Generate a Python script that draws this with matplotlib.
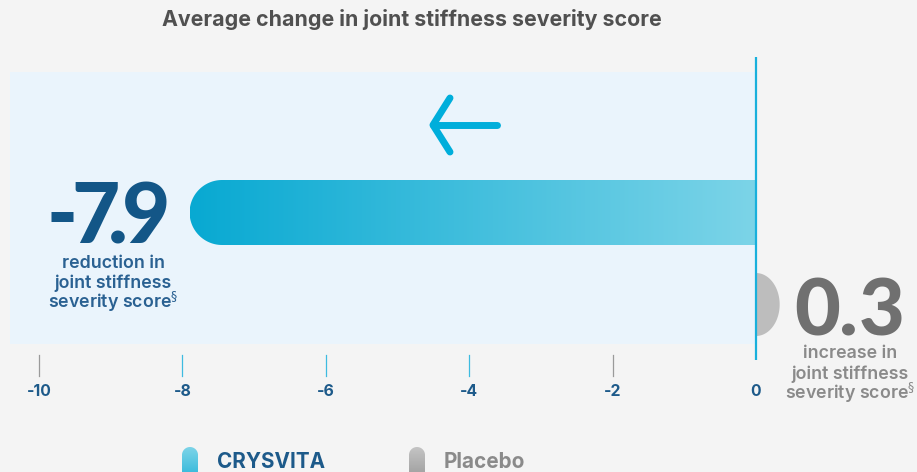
import numpy as np
import matplotlib
matplotlib.use("Agg")
import matplotlib.pyplot as plt
from matplotlib.path import Path
from matplotlib.patches import PathPatch, Rectangle
from matplotlib.colors import LinearSegmentedColormap

# ---- data ----
groups = ["CRYSVITA", "Placebo"]
values = [-7.9, 0.3]
value_labels = ["-7.9", "0.3"]
ticks = [-10, -8, -6, -4, -2, 0]
tick_labels = ["-10", "-8", "-6", "-4", "-2", "0"]
title = "Average change in joint stiffness severity score"
desc_neg = ["reduction in", "joint stiffness", r"severity score$^{\S}$"]
desc_pos = ["increase in", "joint stiffness", r"severity score$^{\S}$"]

W, H = 917, 472
PX = 71.7          # pixels per unit
X0 = 756           # pixel of value 0
fig = plt.figure(figsize=(W / 100, H / 100), dpi=100)
fig.patch.set_facecolor("#F4F4F4")
ax = fig.add_axes([0, 0, 1, 1])
ax.set_xlim(-X0 / PX, (W - X0) / PX)
ax.set_ylim(H, 0)
ax.axis("off")
renderer = fig.canvas.get_renderer()

def px2v(p):
    return (p - X0) / PX

FONT = "Inter"
DARK = "#135687"
GREY = "#707070"

def fit_size(strings, target_w, **kw):
    widths = []
    for s in strings:
        t = ax.text(0, 0, s, fontsize=10, **kw)
        widths.append(t.get_window_extent(renderer).width)
        t.remove()
    return 10 * target_w / max(widths)

# light panel
ax.add_patch(Rectangle((px2v(10), 72), 0 - px2v(10), 272, facecolor="#EAF4FC",
                       edgecolor="none", zorder=0))

def mkpath(verts):
    verts = list(verts) + [verts[0]]
    codes = [Path.MOVETO] + [Path.LINETO] * (len(verts) - 2) + [Path.CLOSEPOLY]
    return Path(verts, codes)

# CRYSVITA bar with gradient, rounded left end
v = values[0]
bar_top, bar_bot = 180, 245
r = (bar_bot - bar_top) / 2
yc = (bar_top + bar_bot) / 2
rx = r / PX
cx = v + rx
th = np.linspace(np.pi / 2, 3 * np.pi / 2, 80)
verts = [(0, bar_top)] + [(cx + rx * np.cos(t), yc - r * np.sin(t)) for t in th] + [(0, bar_bot)]
patch = PathPatch(mkpath(verts), facecolor="none", edgecolor="none")
ax.add_patch(patch)
cmap = LinearSegmentedColormap.from_list("g", ["#08A9D2", "#7CD4E8"])
grad = np.linspace(0, 1, 256).reshape(1, -1)
im = ax.imshow(grad, cmap=cmap, extent=[v, 0, bar_bot, bar_top], aspect="auto",
               zorder=2, interpolation="bilinear")
im.set_clip_path(patch)

# Placebo half-ellipse bar
pv = values[1]
p_top, p_bot = 273, 336
pr = (p_bot - p_top) / 2
pyc = (p_top + p_bot) / 2
th = np.linspace(-np.pi / 2, np.pi / 2, 60)
pverts = [(0 + (pv + 0.03) * np.cos(t), pyc + pr * np.sin(t)) for t in th]
ax.add_patch(PathPatch(mkpath(pverts), facecolor="#BDBDBD", edgecolor="none", zorder=2))

# zero line
ax.plot([0, 0], [57, 360], color="#18B0DC", lw=1.6, zorder=3, solid_capstyle="butt")

# ticks
tfs = fit_size(["-10"], 25, fontweight="bold", family=FONT)
for t, lab in zip(ticks, tick_labels):
    if t != 0:
        col = "#9A9A9A" if t in (-10, -2) else "#3DBBE0"
        ax.plot([t, t], [355, 376], color=col, lw=0.9, zorder=3)
    ax.text(t, 391, lab, ha="center", va="center", fontsize=tfs, fontweight="bold",
            color="#1D5A8A", family=FONT)

# title
fs = fit_size([title], 499, fontweight="bold", family=FONT)
ax.text(px2v(412), 20, title, ha="center", va="center", fontsize=fs,
        fontweight="bold", color="#505050", family=FONT)

# arrow
ax.plot([px2v(433), px2v(497)], [125, 125], color="#00AEDB", lw=5, solid_capstyle="round", zorder=3)
ax.plot([px2v(450), px2v(433), px2v(450)], [98, 125, 152], color="#00AEDB", lw=5,
        solid_capstyle="round", solid_joinstyle="round", zorder=3)

# big value label -7.9 (glyphs placed individually for tight kerning)
big_neg = list(value_labels[0])
neg_x = [62, 96, 118, 146]
for ch, xp in zip(big_neg, neg_x):
    ax.text(px2v(xp), 243, ch, ha="center", va="baseline", fontsize=60,
            fontweight="black", color=DARK, family="Lato")

dfs = fit_size(desc_neg, 131, fontweight="semibold", family=FONT)
for s, yy in zip(desc_neg, [263, 283, 302]):
    ax.text(px2v(113), yy, s, ha="center", va="center", fontsize=dfs,
            fontweight="semibold", color="#2A6192", family=FONT)

# big value label 0.3
big_pos = list(value_labels[1])
pos_x = [817, 848, 882]
for ch, xp in zip(big_pos, pos_x):
    ax.text(px2v(xp), 336, ch, ha="center", va="baseline", fontsize=57,
            fontweight="black", color=GREY, family="Lato")
for s, yy in zip(desc_pos, [354, 374, 393]):
    ax.text(px2v(850), yy, s, ha="center", va="center", fontsize=dfs,
            fontweight="semibold", color="#8A8A8A", family=FONT)

# legend chips (vertical capsules)
def legend_chip(xc_px, colors):
    half = 8 / PX
    rr = 8
    ytop = 447
    xc = px2v(xc_px)
    th = np.linspace(np.pi, 0, 40)
    vv = [(xc - half, 490)] + [(xc + half * np.cos(t), ytop + rr - rr * np.sin(t)) for t in th] + [(xc + half, 490)]
    pp = PathPatch(mkpath(vv), facecolor="none", edgecolor="none")
    ax.add_patch(pp)
    cm = LinearSegmentedColormap.from_list("c", colors)
    g = np.linspace(0, 1, 64).reshape(-1, 1)
    im2 = ax.imshow(g, cmap=cm, extent=[xc - half, xc + half, 490, ytop], aspect="auto", zorder=3)
    im2.set_clip_path(pp)

legend_chip(190, ["#7CD4E8", "#12ABD4"])
legend_chip(417, ["#C4C4C4", "#8E8E8E"])
lfs = fit_size([groups[0]], 108, fontweight="bold", family=FONT)
ax.text(px2v(217), 462, groups[0], ha="left", va="center", fontsize=lfs,
        fontweight="bold", color="#1D5A8A", family=FONT)
ax.text(px2v(444), 462, groups[1], ha="left", va="center", fontsize=lfs,
        fontweight="bold", color="#8A8A8A", family=FONT)

ax.set_xlim(-X0 / PX, (W - X0) / PX)
ax.set_ylim(H, 0)
fig.savefig("out.png", dpi=100, facecolor=fig.get_facecolor())
